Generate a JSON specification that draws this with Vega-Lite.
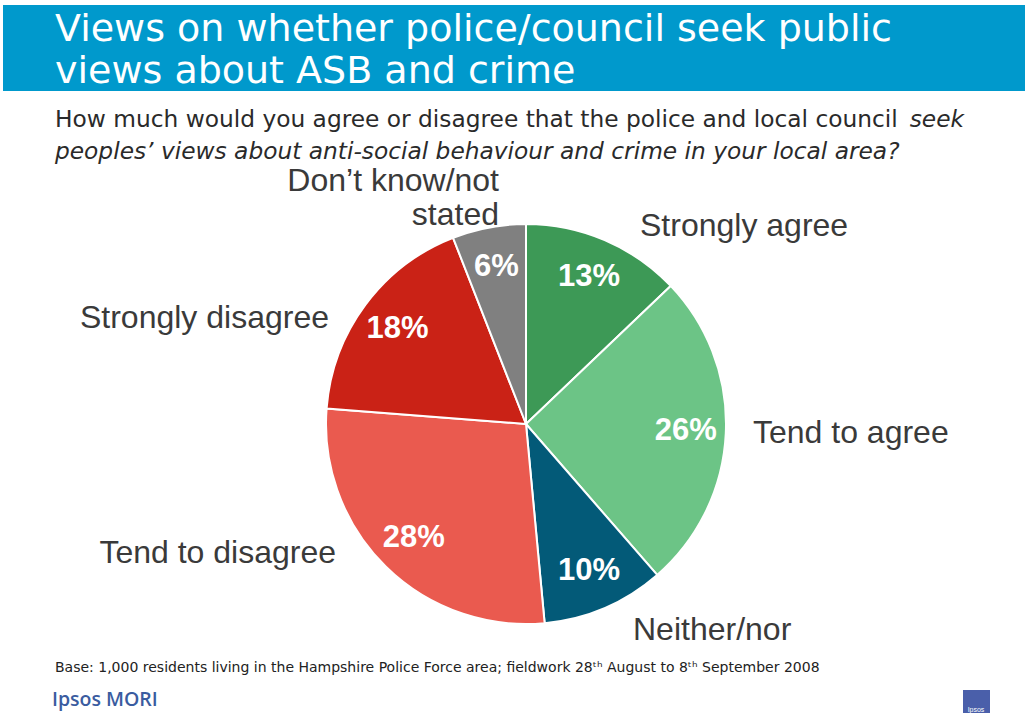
{
  "$schema": "https://vega.github.io/schema/vega-lite/v6.json",
  "width": 400,
  "height": 400,
  "autosize": {"type": "none"},
  "padding": {"left": 326, "top": 224, "right": 306, "bottom": 89},
  "background": "white",
  "config": {"view": {"stroke": null}},
  "data": {
    "values": [
      {"category": "Strongly agree", "share": 0.13, "order": 1, "label": "Strongly agree"},
      {"category": "Tend to agree", "share": 0.26, "order": 2, "label": "Tend to agree"},
      {"category": "Neither/nor", "share": 0.10, "order": 3, "label": "Neither/nor"},
      {"category": "Tend to disagree", "share": 0.28, "order": 4, "label": "Tend to disagree"},
      {"category": "Strongly disagree", "share": 0.18, "order": 5, "label": "Strongly disagree"},
      {"category": "Don’t know/not stated", "share": 0.06, "order": 6, "label": "Don’t know/not\nstated"}
    ]
  },
  "layer": [
    {
      "data": {"values": [{"k": 1}]},
      "mark": {"type": "rect", "color": "#0099CC"},
      "encoding": {"x": {"value": -323}, "x2": {"value": 699}, "y": {"value": -219}, "y2": {"value": -133}}
    },
    {
      "data": {"values": [{"t": "Views on whether police/council seek public"}]},
      "mark": {"type": "text", "align": "left", "baseline": "alphabetic", "font": "DejaVu Sans", "fontSize": 38, "fill": "white"},
      "encoding": {"text": {"field": "t"}, "x": {"value": -271}, "y": {"value": -183}}
    },
    {
      "data": {"values": [{"t": "views about ASB and crime"}]},
      "mark": {"type": "text", "align": "left", "baseline": "alphabetic", "font": "DejaVu Sans", "fontSize": 38, "fill": "white"},
      "encoding": {"text": {"field": "t"}, "x": {"value": -271}, "y": {"value": -141}}
    },
    {
      "data": {"values": [{"t": "How much would you agree or disagree that the police and local council"}]},
      "mark": {"type": "text", "align": "left", "baseline": "alphabetic", "font": "DejaVu Sans", "fontSize": 23.3, "fill": "#2a2a2a"},
      "encoding": {"text": {"field": "t"}, "x": {"value": -271}, "y": {"value": -97}}
    },
    {
      "data": {"values": [{"t": "seek"}]},
      "mark": {"type": "text", "align": "right", "baseline": "alphabetic", "font": "DejaVu Sans", "fontStyle": "italic", "fontSize": 23.3, "fill": "#2a2a2a"},
      "encoding": {"text": {"field": "t"}, "x": {"value": 638}, "y": {"value": -97}}
    },
    {
      "data": {"values": [{"t": "peoples’ views about anti-social behaviour and crime in your local area?"}]},
      "mark": {"type": "text", "align": "left", "baseline": "alphabetic", "font": "DejaVu Sans", "fontStyle": "italic", "fontSize": 23.3, "fill": "#2a2a2a"},
      "encoding": {"text": {"field": "t"}, "x": {"value": -271}, "y": {"value": -65}}
    },
    {
      "mark": {"type": "arc", "stroke": "white", "strokeWidth": 2, "outerRadius": 200},
      "encoding": {
        "theta": {"field": "share", "type": "quantitative", "stack": true},
        "order": {"field": "order", "type": "quantitative"},
        "color": {
          "field": "category",
          "type": "nominal",
          "legend": null,
          "scale": {
            "domain": ["Strongly agree", "Tend to agree", "Neither/nor", "Tend to disagree", "Strongly disagree", "Don’t know/not stated"],
            "range": ["#3D9956", "#6CC486", "#035A78", "#EA5A4F", "#CA2216", "#808080"]
          }
        }
      }
    },
    {
      "mark": {"type": "text", "radius": 160, "font": "Liberation Sans", "fontSize": 31, "fontWeight": "bold", "fill": "white"},
      "encoding": {
        "theta": {"field": "share", "type": "quantitative", "stack": true},
        "order": {"field": "order", "type": "quantitative"},
        "detail": {"field": "category", "type": "nominal"},
        "text": {"field": "share", "type": "quantitative", "format": ".0%"}
      }
    },
    {
      "transform": [{"filter": "datum.order === 1"}],
      "mark": {"type": "text", "align": "left", "baseline": "alphabetic", "font": "Liberation Sans", "fontSize": 32, "fill": "#3a3a3a"},
      "encoding": {"text": {"field": "label"}, "x": {"value": 314}, "y": {"value": 12}}
    },
    {
      "transform": [{"filter": "datum.order === 2"}],
      "mark": {"type": "text", "align": "left", "baseline": "alphabetic", "font": "Liberation Sans", "fontSize": 32, "fill": "#3a3a3a"},
      "encoding": {"text": {"field": "label"}, "x": {"value": 427}, "y": {"value": 219}}
    },
    {
      "transform": [{"filter": "datum.order === 3"}],
      "mark": {"type": "text", "align": "left", "baseline": "alphabetic", "font": "Liberation Sans", "fontSize": 32, "fill": "#3a3a3a"},
      "encoding": {"text": {"field": "label"}, "x": {"value": 307}, "y": {"value": 416}}
    },
    {
      "transform": [{"filter": "datum.order === 4"}],
      "mark": {"type": "text", "align": "right", "baseline": "alphabetic", "font": "Liberation Sans", "fontSize": 32, "fill": "#3a3a3a"},
      "encoding": {"text": {"field": "label"}, "x": {"value": 10}, "y": {"value": 339}}
    },
    {
      "transform": [{"filter": "datum.order === 5"}],
      "mark": {"type": "text", "align": "right", "baseline": "alphabetic", "font": "Liberation Sans", "fontSize": 32, "fill": "#3a3a3a"},
      "encoding": {"text": {"field": "label"}, "x": {"value": 3}, "y": {"value": 104}}
    },
    {
      "transform": [{"filter": "datum.order === 6"}],
      "mark": {"type": "text", "align": "right", "baseline": "alphabetic", "font": "Liberation Sans", "fontSize": 32, "fill": "#3a3a3a", "lineBreak": "\n", "lineHeight": 34},
      "encoding": {"text": {"field": "label"}, "x": {"value": 173}, "y": {"value": -33}}
    },
    {
      "data": {"values": [{"t": "Base: 1,000 residents living in the Hampshire Police Force area; fieldwork 28ᵗʰ August to 8ᵗʰ September 2008"}]},
      "mark": {"type": "text", "align": "left", "baseline": "alphabetic", "font": "DejaVu Sans", "fontSize": 14, "fill": "#222222"},
      "encoding": {"text": {"field": "t"}, "x": {"value": -271}, "y": {"value": 448}}
    },
    {
      "data": {"values": [{"t": "Ipsos MORI"}]},
      "mark": {"type": "text", "align": "left", "baseline": "alphabetic", "font": "Open Sans", "fontSize": 19.5, "fontWeight": 600, "fill": "#3A5CA0"},
      "encoding": {"text": {"field": "t"}, "x": {"value": -274}, "y": {"value": 482}}
    },
    {
      "data": {"values": [{"k": 1}]},
      "mark": {"type": "rect", "color": "#4A5FAA"},
      "encoding": {"x": {"value": 637}, "x2": {"value": 664}, "y": {"value": 466}, "y2": {"value": 489}}
    },
    {
      "data": {"values": [{"t": "Ipsos"}]},
      "mark": {"type": "text", "align": "center", "baseline": "alphabetic", "font": "Liberation Sans", "fontSize": 7, "fill": "white"},
      "encoding": {"text": {"field": "t"}, "x": {"value": 650}, "y": {"value": 488}}
    }
  ]
}
